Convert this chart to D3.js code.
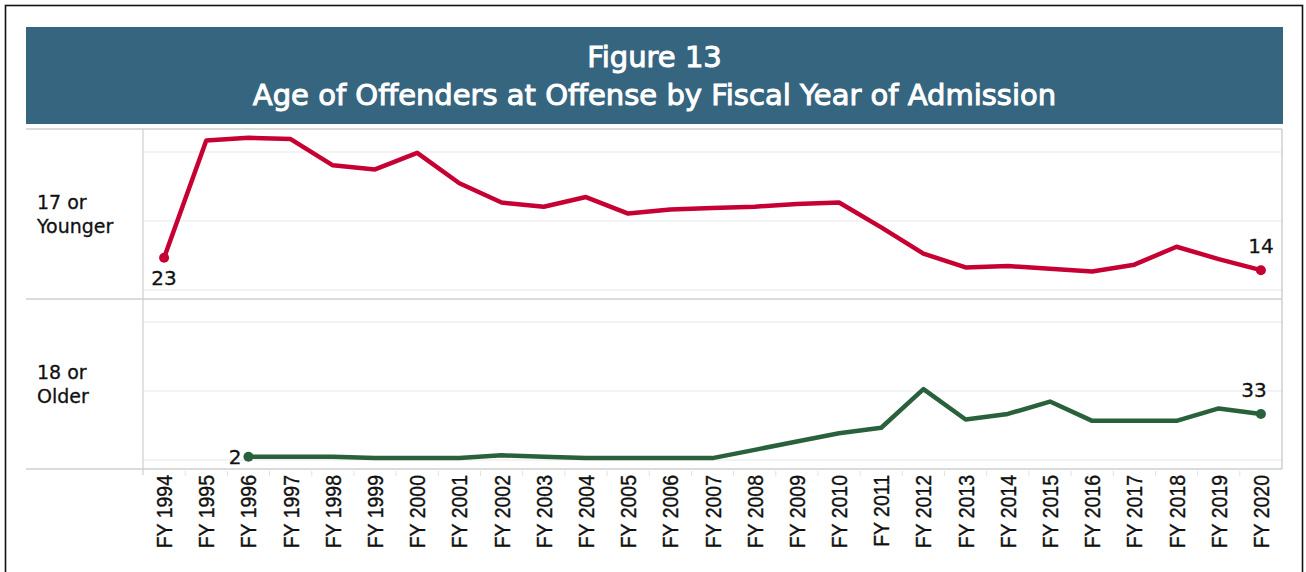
<!DOCTYPE html>
<html>
<head>
<meta charset="utf-8">
<script src="https://cdn.jsdelivr.net/npm/d3@7"></script>
<style>
  body { margin: 0; background: #fff; }
  svg { display: block; }
</style>
</head>
<body>
<div id="chart"></div>
<script>
// Data
const years = [1994, 1995, 1996, 1997, 1998, 1999, 2000, 2001, 2002, 2003, 2004, 2005, 2006, 2007,
               2008, 2009, 2010, 2011, 2012, 2013, 2014, 2015, 2016, 2017, 2018, 2019, 2020];
const yearLabels = years.map(y => "FY " + y);
const younger = [23, 108, 110, 109, 90, 87, 99, 77, 63, 60, 67, 55, 58, 59,
                 60, 62, 63, 45, 26, 16, 17, 15, 13, 18, 31, 22, 14];
const older = [null, null, 2, 2, 2, 1, 1, 1, 3, 2, 1, 1, 1, 1,
               7, 13, 19, 23, 51, 29, 33, 42, 28, 28, 28, 37, 33];
const rowLabels = [["17 or", "Younger"], ["18 or", "Older"]];
const gridValues = [0, 50, 100];

const W = 1306, H = 572;
const plot = {left: 143, right: 1282, top: 129, bottom: 469};
const labelLeft = 26;
const panelH = (plot.bottom - plot.top) / 2;

const svg = d3.select("#chart").append("svg")
    .attr("width", W)
    .attr("height", H);

// outer frame
svg.append("rect")
    .attr("x", 5.5).attr("y", 5.5)
    .attr("width", 1297).attr("height", 600)
    .attr("fill", "none")
    .attr("stroke", "#111")
    .attr("stroke-width", 1.6);

// title band
svg.append("rect")
    .attr("x", 26).attr("y", 27)
    .attr("width", 1257).attr("height", 97)
    .attr("fill", "#36657f");

const title = svg.append("text")
    .attr("x", (26 + 1283) / 2)
    .attr("text-anchor", "middle")
    .attr("fill", "#fff")
    .attr("stroke", "#fff")
    .attr("stroke-width", 1)
    .style("font-family", "DejaVu Sans")
    .style("font-size", "29px");
title.append("tspan").attr("x", (26 + 1283) / 2).attr("y", 67).text("Figure 13");
title.append("tspan").attr("x", (26 + 1283) / 2).attr("y", 105).text("Age of Offenders at Offense by Fiscal Year of Admission");

// x scale
const x = d3.scaleBand().domain(years).range([plot.left, plot.right]).padding(0);
const cx = d => x(d) + x.bandwidth() / 2;

const series = [
    {values: younger, color: "#c70033", first: "below", last: "above"},
    {values: older, color: "#2a613d", first: "left", last: "above"}
];

series.forEach((s, i) => {
    const top = plot.top + i * panelH;
    const bottom = top + panelH;
    const y = d3.scaleLinear().domain([0, 100]).range([bottom - 9.5, bottom - 147.5]);

    // gridlines
    const grid = svg.append("g")
        .attr("transform", `translate(${plot.left},0)`)
        .call(d3.axisRight(y).tickValues(gridValues).tickSize(plot.right - plot.left).tickFormat(""));
    grid.select(".domain").remove();
    grid.selectAll("line").attr("stroke", "#efefef").attr("stroke-width", 1.3);

    // row label
    const rl = svg.append("text")
        .attr("fill", "#111")
        .attr("stroke", "#111")
        .attr("stroke-width", 0.3)
        .style("font-family", "DejaVu Sans")
        .style("font-size", "19px");
    rl.append("tspan").attr("x", 37).attr("y", top + 80).text(rowLabels[i][0]);
    rl.append("tspan").attr("x", 37).attr("y", top + 104).text(rowLabels[i][1]);

    const pts = years.map((yr, k) => ({yr, v: s.values[k]})).filter(d => d.v != null);

    svg.append("path")
        .datum(pts)
        .attr("fill", "none")
        .attr("stroke", s.color)
        .attr("stroke-width", 4.5)
        .attr("stroke-linejoin", "round")
        .attr("d", d3.line().x(d => cx(d.yr)).y(d => y(d.v)));

    const ends = [pts[0], pts[pts.length - 1]];
    svg.selectAll(null)
        .data(ends)
        .join("circle")
        .attr("cx", d => cx(d.yr))
        .attr("cy", d => y(d.v))
        .attr("r", 5)
        .attr("fill", s.color);

    ends.forEach((d, k) => {
        const pos = k === 0 ? s.first : s.last;
        const t = svg.append("text")
            .attr("fill", "#111")
            .attr("stroke", "#111")
            .attr("stroke-width", 0.3)
            .style("font-family", "DejaVu Sans")
            .style("font-size", "20px")
            .text(d.v);
        if (pos === "below") {
            t.attr("x", cx(d.yr)).attr("y", y(d.v) + 27).attr("text-anchor", "middle");
        } else if (pos === "above") {
            t.attr("x", cx(d.yr) - (i === 1 ? 7 : 0)).attr("y", y(d.v) - 17).attr("text-anchor", "middle");
        } else {
            t.attr("x", cx(d.yr) - 7).attr("y", y(d.v) + 7).attr("text-anchor", "end");
        }
    });
});

// frame lines of the panel table
const lineColor = "#cfcfcf";
[plot.top, plot.top + panelH, plot.bottom].forEach(yy => {
    svg.append("line")
        .attr("x1", labelLeft).attr("x2", plot.right)
        .attr("y1", yy).attr("y2", yy)
        .attr("stroke", lineColor).attr("stroke-width", 1.5);
});
svg.append("line")
    .attr("x1", plot.left).attr("x2", plot.left)
    .attr("y1", plot.top).attr("y2", plot.bottom + 6)
    .attr("stroke", lineColor).attr("stroke-width", 1.2);
svg.append("line")
    .attr("x1", plot.right).attr("x2", plot.right)
    .attr("y1", plot.top).attr("y2", plot.bottom)
    .attr("stroke", lineColor).attr("stroke-width", 1.5);

// x axis: ticks at band edges, rotated labels
svg.append("g")
    .selectAll("line")
    .data(years.slice(1))
    .join("line")
    .attr("x1", d => x(d)).attr("x2", d => x(d))
    .attr("y1", plot.bottom + 2).attr("y2", plot.bottom + 7)
    .attr("stroke", "#e2e2e2");

svg.append("g")
    .selectAll("text")
    .data(years)
    .join("text")
    .attr("transform", d => `translate(${cx(d) + 8},${plot.bottom + 6}) rotate(-90) scale(1,1.15)`)
    .attr("text-anchor", "end")
    .attr("fill", "#111")
    .attr("stroke", "#111")
    .attr("stroke-width", 0.35)
    .style("font-family", "'Liberation Sans', Arial")
    .style("font-size", "19.5px")
    .text((d, k) => yearLabels[k]);
</script>
</body>
</html>
